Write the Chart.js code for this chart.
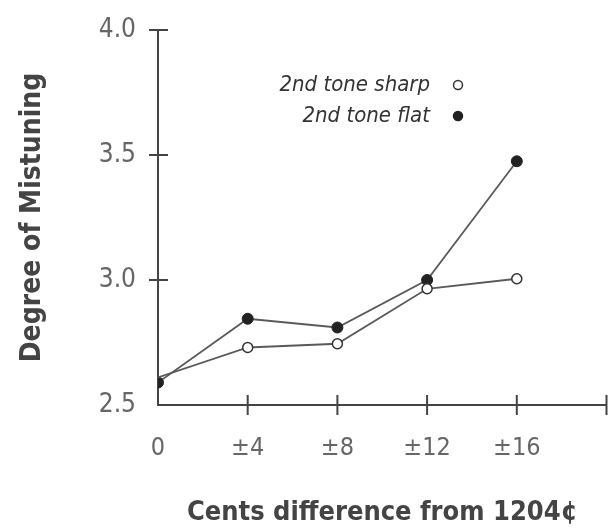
<!DOCTYPE html>
<html>
<head>
<meta charset="utf-8">
<script src="https://cdn.jsdelivr.net/npm/chart.js@4/dist/chart.umd.min.js"></script>
<style>
  html, body { margin: 0; padding: 0; background: #fff; }
  #wrap { width: 613px; height: 531px; }
</style>
</head>
<body>
<div id="wrap"><canvas id="mistune" width="613" height="531"></canvas></div>
<script>
// cents difference from 1204c
const cents = [0, 4, 8, 12, 16];
const sharpVals = [2.61, 2.73, 2.745, 2.965, 3.005];
const flatVals = [2.59, 2.845, 2.81, 3.0, 3.475];
const xTicks = [0, 4, 8, 12, 16, 20];
const xTickLabels = ['0', '±4', '±8', '±12', '±16', ''];
const yTicks = [2.5, 3.0, 3.5, 4.0];
const seriesNames = ['2nd tone sharp', '2nd tone flat'];

const FONT = "'DejaVu Sans Condensed', 'Liberation Sans Narrow', 'DejaVu Sans', sans-serif";
const INK = '#444';
const LINE = '#5a5a5a';

// ticks crossing both axes, like the printed figure
const crossTicks = {
  id: 'crossTicks',
  afterDraw(chart) {
    const { ctx, scales: { x, y } } = chart;
    ctx.save();
    ctx.strokeStyle = INK;
    ctx.lineWidth = 2;
    ctx.beginPath();
    xTicks.forEach(v => {
      if (v === 0) return;
      const px = x.getPixelForValue(v);
      ctx.moveTo(px, y.bottom - 10);
      ctx.lineTo(px, y.bottom + 10);
    });
    yTicks.forEach(v => {
      if (v === 2.5) return;
      const py = y.getPixelForValue(v);
      ctx.moveTo(x.left - 9, py);
      ctx.lineTo(x.left + 10, py);
    });
    ctx.stroke();
    ctx.restore();
  }
};

// legend inside plot: text then marker
const insideLegend = {
  id: 'insideLegend',
  afterDraw(chart) {
    const { ctx } = chart;
    ctx.save();
    ctx.font = 'italic 22px ' + FONT;
    ctx.textAlign = 'right';
    ctx.textBaseline = 'middle';
    chart.data.datasets.forEach((ds, i) => {
      const ty = 85 + i * 31;
      ctx.fillStyle = '#333';
      ctx.fillText(ds.label, 430, ty);
      ctx.beginPath();
      ctx.arc(458, ty, 4.5, 0, Math.PI * 2);
      ctx.fillStyle = ds.pointBackgroundColor;
      ctx.fill();
      ctx.lineWidth = 1.5;
      ctx.strokeStyle = ds.pointBorderColor;
      ctx.stroke();
    });
    ctx.restore();
  }
};

new Chart(document.getElementById('mistune'), {
  type: 'scatter',
  data: {
    datasets: [
      {
        label: seriesNames[0],
        data: cents.map((c, i) => ({ x: c, y: sharpVals[i] })),
        showLine: true,
        borderColor: LINE,
        borderWidth: 1.8,
        pointRadius: [0, 5, 5, 5, 5],
        pointBackgroundColor: '#fff',
        pointBorderColor: '#333',
        pointBorderWidth: 1.5,
      },
      {
        label: seriesNames[1],
        data: cents.map((c, i) => ({ x: c, y: flatVals[i] })),
        showLine: true,
        borderColor: LINE,
        borderWidth: 1.8,
        pointRadius: 5.5,
        pointBackgroundColor: '#222',
        pointBorderColor: '#222',
        pointBorderWidth: 1,
      },
    ],
  },
  options: {
    responsive: false,
    animation: false,
    layout: { padding: { top: 30, right: 5, left: 0, bottom: 0 } },
    plugins: { legend: { display: false }, tooltip: { enabled: false } },
    scales: {
      x: {
        type: 'linear',
        min: 0,
        max: 20,
        afterBuildTicks: (s) => { s.ticks = xTicks.map(v => ({ value: v })); },
        afterFit: (s) => { s.height = 126; s.paddingLeft = 0; s.paddingRight = 0; },
        grid: { display: true, drawOnChartArea: false, drawTicks: false },
        border: { color: INK, width: 2 },
        ticks: {
          padding: 28,
          color: '#666',
          font: { family: FONT, size: 25 },
          callback: (v) => xTickLabels[xTicks.indexOf(v)],
        },
        title: {
          display: true,
          text: 'Cents difference from 1204¢',
          color: INK,
          font: { family: FONT, size: 27, weight: 'bold' },
          padding: { top: 0, bottom: 2 },
        },
      },
      y: {
        min: 2.5,
        max: 4.0,
        afterBuildTicks: (s) => { s.ticks = yTicks.map(v => ({ value: v })); },
        afterFit: (s) => { s.width = 158; s.paddingTop = 0; s.paddingBottom = 0; },
        grid: { display: true, drawOnChartArea: false, drawTicks: false },
        border: { color: INK, width: 2 },
        ticks: {
          padding: 22,
          color: '#666',
          font: { family: FONT, size: 26 },
          callback: (v) => v.toFixed(1),
        },
        title: {
          display: true,
          text: 'Degree of Mistuning',
          color: INK,
          font: { family: FONT, size: 28, weight: 'bold' },
          padding: { top: 16, bottom: 0 },
        },
      },
    },
  },
  plugins: [crossTicks, insideLegend],
});
</script>
</body>
</html>
